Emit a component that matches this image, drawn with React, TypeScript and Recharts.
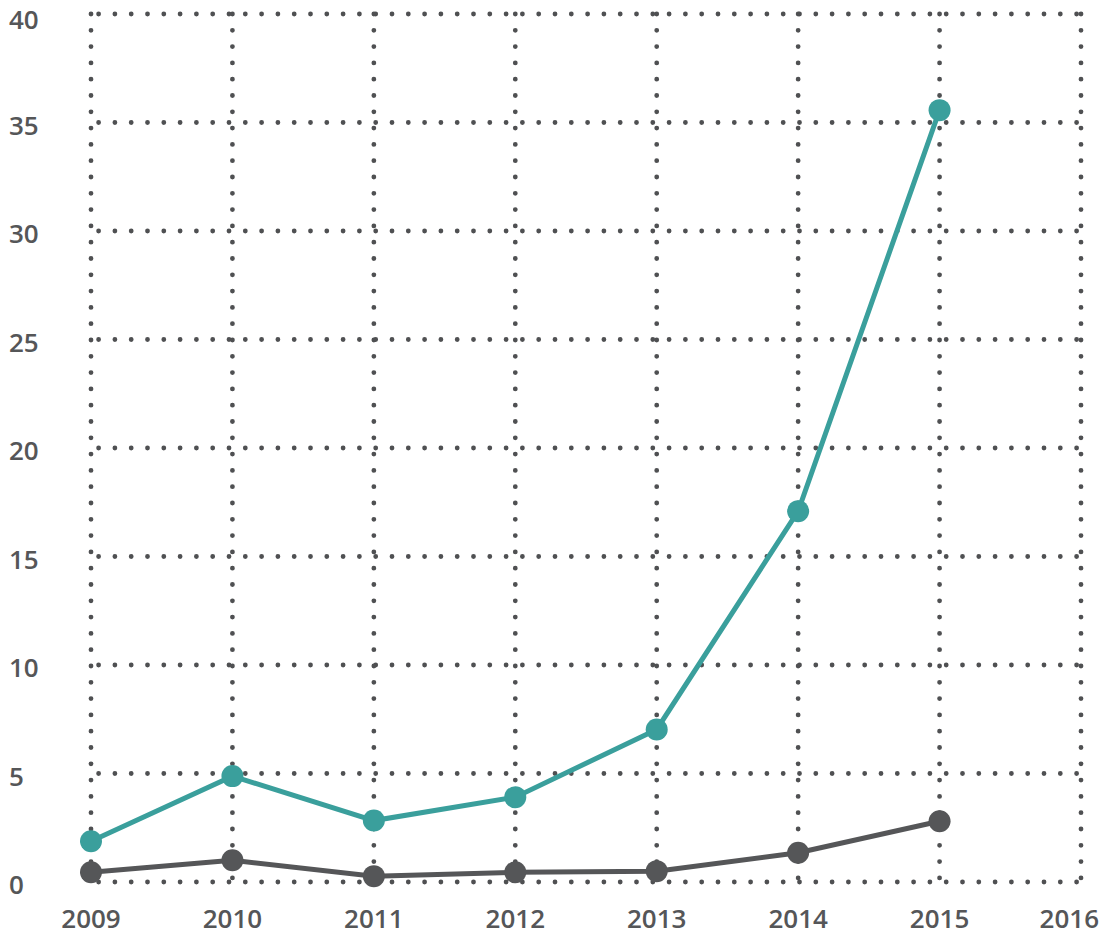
import React from "react";
import { LineChart, Line, XAxis, YAxis, CartesianGrid } from "recharts";

const years = [2009, 2010, 2011, 2012, 2013, 2014, 2015];
const tealValues = [1.88, 4.88, 2.83, 3.91, 7.03, 17.09, 35.57];
const grayValues = [0.45, 1.0, 0.27, 0.45, 0.5, 1.35, 2.8];
const xTicks = [2009, 2010, 2011, 2012, 2013, 2014, 2015, 2016];
const yTicks = [0, 5, 10, 15, 20, 25, 30, 35, 40];

const data = years.map((year, i) => ({ year, teal: tealValues[i], gray: grayValues[i] }));

const TEAL = "#3a9f9c";
const GRAY = "#555658";
const TEXT = "#555658";
const FONT = "'Open Sans', sans-serif";

const YTick = (props: any) => {
  const { y, payload } = props;
  return (
    <text x={9} y={Math.max(y + 12, 29)} textAnchor="start" fontFamily={FONT} fontWeight={600} fontSize={26} fill={TEXT}>
      {payload.value}
    </text>
  );
};

const XTick = (props: any) => {
  const { x, y, payload } = props;
  const last = payload.value === 2016;
  return (
    <text
      x={last ? x + 18 : x}
      y={y + 44}
      textAnchor={last ? "end" : "middle"}
      fontFamily={FONT}
      fontWeight={600}
      fontSize={26}
      fill={TEXT}
    >
      {payload.value}
    </text>
  );
};

export default function App() {
  return (
    <div style={{ position: "absolute", left: 0, top: 0, width: 1108, height: 937, background: "#fff" }}>
      <LineChart width={1108} height={937} data={data} margin={{ top: 14, right: 27, left: 0, bottom: 0 }}>
        <CartesianGrid
          vertical={false}
          stroke="#4f5052"
          strokeWidth={4.8}
          strokeLinecap="round"
          strokeDasharray="0 16.3"
          strokeDashoffset={8.7}
        />
        <CartesianGrid
          horizontal={false}
          stroke="#4f5052"
          strokeWidth={4.8}
          strokeLinecap="round"
          strokeDasharray="0 16.3"
        />
        <XAxis
          dataKey="year"
          type="number"
          domain={[2009, 2016]}
          ticks={xTicks}
          axisLine={false}
          tickLine={false}
          tickSize={0}
          height={55}
          tick={<XTick />}
          interval={0}
        />
        <YAxis
          type="number"
          domain={[0, 40]}
          ticks={yTicks}
          axisLine={false}
          tickLine={false}
          width={91}
          tick={<YTick />}
          interval={0}
        />
        <Line
          type="linear"
          dataKey="teal"
          stroke={TEAL}
          strokeWidth={5}
          dot={{ r: 11, fill: TEAL, stroke: "none" }}
          isAnimationActive={false}
        />
        <Line
          type="linear"
          dataKey="gray"
          stroke={GRAY}
          strokeWidth={5}
          dot={{ r: 11, fill: GRAY, stroke: "none" }}
          isAnimationActive={false}
        />
      </LineChart>
    </div>
  );
}
